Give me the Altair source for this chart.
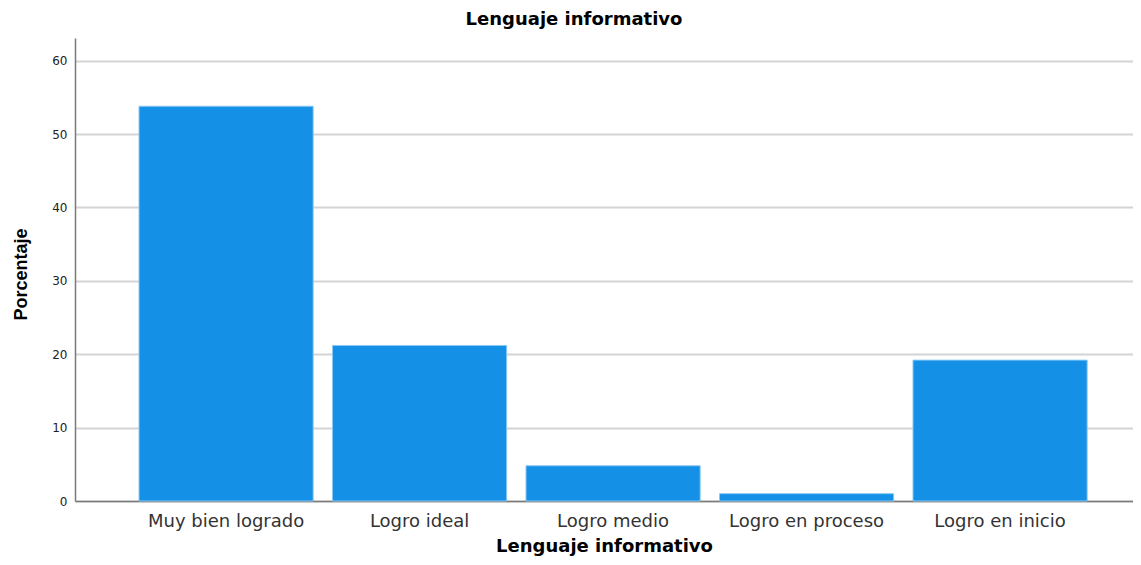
import altair as alt
import pandas as pd

categories = ["Muy bien logrado", "Logro ideal", "Logro medio", "Logro en proceso", "Logro en inicio"]
percentages = [53.8, 21.2, 4.8, 1.0, 19.2]
y_ticks = [0, 10, 20, 30, 40, 50, 60]

df = pd.DataFrame({"categoria": categories, "porcentaje": percentages})

bars = alt.Chart(df).mark_bar(color="#1490e6", stroke="#8cc8f2", strokeWidth=1).encode(
    x=alt.X(
        "categoria:N",
        sort=categories,
        scale=alt.Scale(paddingInner=0.1, paddingOuter=0.2839, align=0.5826),
        axis=alt.Axis(
            title="Lenguaje informativo",
            labelAngle=0,
            labelFont="DejaVu Sans",
            labelFontSize=18,
            labelColor="#333333",
            labelPadding=11,
            ticks=False,
            domainColor="#7a7a7a",
            domainWidth=1.5,
            grid=False,
            titleFont="DejaVu Sans",
            titleFontSize=18,
            titleFontWeight="bold",
            titleColor="#000000",
            titleY=50,
            titleBaseline="alphabetic",
        ),
    ),
    y=alt.Y(
        "porcentaje:Q",
        scale=alt.Scale(domain=[0, 63.1], nice=False),
        axis=alt.Axis(
            title="Porcentaje",
            values=y_ticks,
            format="d",
            labelFont="DejaVu Sans",
            labelFontSize=12,
            labelColor="#222222",
            labelPadding=8,
            ticks=False,
            domainColor="#7a7a7a",
            domainWidth=1.5,
            gridColor="#d4d4d4",
            gridWidth=2,
            titleFont="Liberation Sans Narrow, Liberation Sans",
            titleFontSize=18,
            titleFontWeight="bold",
            titleColor="#000000",
            titleX=-54,
            titleY=236,
            titleBaseline="middle",
            titleAlign="center",
            titleAngle=270,
        ),
    ),
)

chart = bars.properties(
    width=1058,
    height=463,
    autosize=alt.AutoSizeParams(type="none"),
    padding={"left": 67, "top": 30, "right": 0, "bottom": 56},
    title=alt.TitleParams(
        "Lenguaje informativo",
        font="DejaVu Sans",
        fontSize=18,
        fontWeight="bold",
        color="#000000",
        anchor="middle",
        dx=-30,
        dy=15,
        offset=10,
        baseline="alphabetic",
    ),
).configure(background="white").configure_view(stroke=None)

chart.save("out.html", embed_options={"renderer": "svg", "actions": False})
